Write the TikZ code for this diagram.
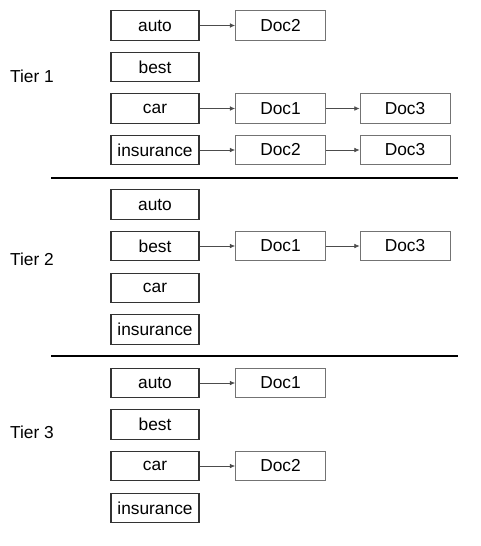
\documentclass[tikz,border=0pt]{standalone}
\usepackage{fontspec}
\setmainfont{Liberation Sans}
\usetikzlibrary{arrows.meta}

\tikzset{
	term/.style={draw=black!80, line width=0.9pt, minimum width=66pt, minimum height=22pt, inner sep=0pt},
	doc/.style={draw=black!55, line width=0.6pt, minimum width=67.5pt, minimum height=22pt, inner sep=0pt},
	post/.style={-{Latex[length=4pt,width=3.5pt]}, draw=black!70, line width=0.5pt},
}

\begin{document}
\begin{tikzpicture}[x=0.75pt, y=-0.75pt, font=\fontsize{13}{15}\selectfont]
		\useasboundingbox (0, 0) rectangle (481, 546);

		% Tier 1
		\node at (32, 76) {Tier 1};
		\node[term] (auto1) at (155, 25.5) {auto};
		\node[term] (best1) at (155, 67) {best};
		\node[term] (car1) at (155, 108.5) {car};
		\node[term] (ins1) at (155, 150) {insurance};
		\node[doc] (auto1a) at (280.5, 25.5) {Doc2};
		\node[doc] (car1a) at (280.5, 108.5) {Doc1};
		\node[doc] (car1b) at (405, 108.5) {Doc3};
		\node[doc] (ins1a) at (280.5, 150) {Doc2};
		\node[doc] (ins1b) at (405, 150) {Doc3};
		\draw[post] (auto1) -- (auto1a);
		\draw[post] (car1) -- (car1a);
		\draw[post] (car1a) -- (car1b);
		\draw[post] (ins1) -- (ins1a);
		\draw[post] (ins1a) -- (ins1b);

		\coordinate (L1) at (51, 178);
		\coordinate (R1) at (458, 178);
		\draw[line width=1pt] (L1) -- (R1);

		% Tier 2
		\node at (32, 259) {Tier 2};
		\node[term] (auto2) at (155, 204.5) {auto};
		\node[term] (best2) at (155, 246) {best};
		\node[term] (car2) at (155, 288) {car};
		\node[term] (ins2) at (155, 329.5) {insurance};
		\node[doc] (best2a) at (280.5, 246) {Doc1};
		\node[doc] (best2b) at (405, 246) {Doc3};
		\draw[post] (best2) -- (best2a);
		\draw[post] (best2a) -- (best2b);

		\coordinate (L2) at (51, 356);
		\coordinate (R2) at (458, 356);
		\draw[line width=1pt] (L2) -- (R2);

		% Tier 3
		\node at (32, 432) {Tier 3};
		\node[term] (auto3) at (155, 383) {auto};
		\node[term] (best3) at (155, 424.5) {best};
		\node[term] (car3) at (155, 466) {car};
		\node[term] (ins3) at (155, 508) {insurance};
		\node[doc] (auto3a) at (280.5, 383) {Doc1};
		\node[doc] (car3a) at (280.5, 466) {Doc2};
		\draw[post] (auto3) -- (auto3a);
		\draw[post] (car3) -- (car3a);
	\end{tikzpicture}
\end{document}
